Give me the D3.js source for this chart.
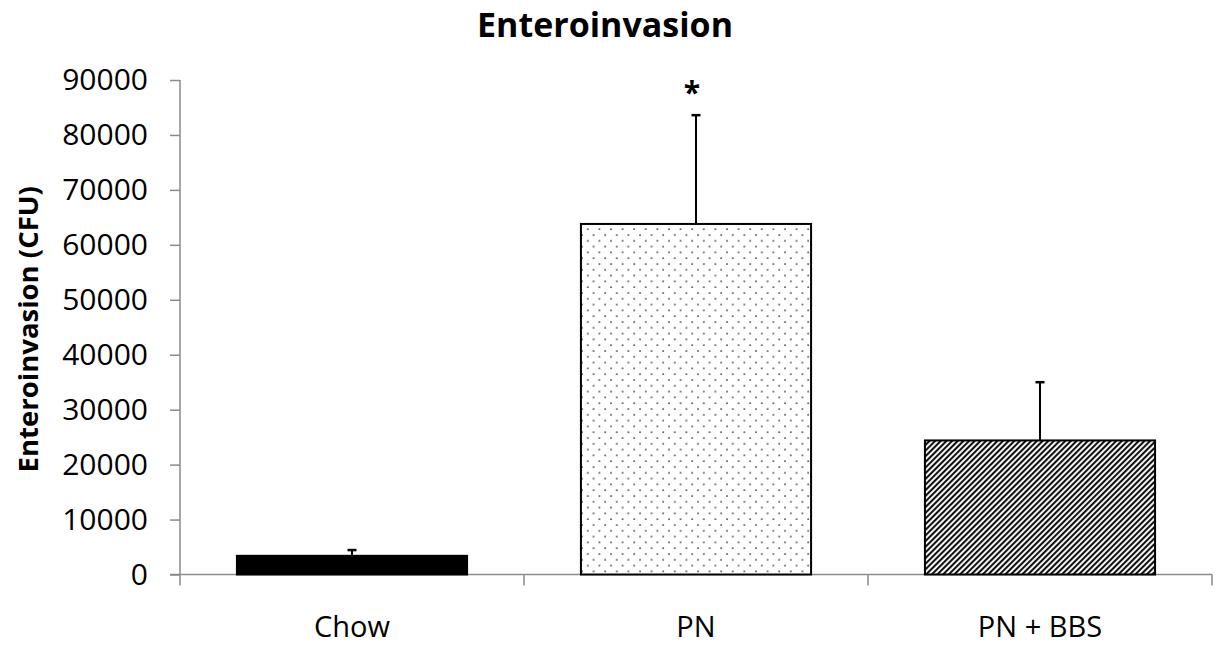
<!DOCTYPE html>
<html>
<head>
<meta charset="utf-8">
<script src="https://cdn.jsdelivr.net/npm/d3@7"></script>
<style>
	body { margin: 0; background: #fff; }
	svg { display: block; }
</style>
</head>
<body>
<main></main>
<script>
//Enteroinvasion bar chart with D3

//Data
const categories = ["Chow", "PN", "PN + BBS"];
const means = [3400, 63800, 24400];
const errors = [1050, 19800, 10600];
const significance = ["", "*", ""];
const yTicks = [0, 10000, 20000, 30000, 40000, 50000, 60000, 70000, 80000, 90000];
const fills = ["solid", "dots", "hatch"];

document.addEventListener('DOMContentLoaded', function(){

	//Parameters
	const w = 1220;
	const h = 646;
	const left = 180;
	const right = 1212;
	const top = 80;
	const bottom = 574.5;
	const axisColor = "#8a8a8a";
	const font = "'Open Sans', sans-serif";

	//svg
	const svg = d3
		.select("main")
		.append("svg")
		.attr("width", w)
		.attr("height", h);

	//Patterns
	const defs = svg.append("defs");

	const dots = defs.append("pattern")
		.attr("id", "dots")
		.attr("patternUnits", "userSpaceOnUse")
		.attr("width", 11.6)
		.attr("height", 11.6);
	dots.append("rect").attr("width", 11.6).attr("height", 11.6).attr("fill", "#fff");
	dots.append("circle").attr("cx", 2).attr("cy", 3).attr("r", 0.85).attr("fill", "#222");
	dots.append("circle").attr("cx", 7.8).attr("cy", 8.8).attr("r", 0.85).attr("fill", "#222");

	const hatch = defs.append("pattern")
		.attr("id", "hatch")
		.attr("patternUnits", "userSpaceOnUse")
		.attr("width", 4)
		.attr("height", 4)
		.attr("patternTransform", "rotate(45)");
	hatch.append("rect").attr("width", 4).attr("height", 4).attr("fill", "#fff");
	hatch.append("rect").attr("width", 2.1).attr("height", 4).attr("fill", "#111");

	//Scales
	const x = d3.scaleBand()
		.domain(categories)
		.range([left, right])
		.paddingInner(0.331)
		.paddingOuter(0.1655);

	const y = d3.scaleLinear()
		.domain([0, 90000])
		.range([bottom, top]);

	//Title
	svg.append("text")
		.attr("x", 605)
		.attr("y", 37)
		.attr("text-anchor", "middle")
		.style("font-family", font)
		.style("font-weight", "bold")
		.style("font-size", "34px")
		.text("Enteroinvasion");

	//Y axis
	const yAxis = svg.append("g")
		.attr("transform", "translate(" + left + ",0)")
		.call(d3.axisLeft(y).tickValues(yTicks).tickSize(10).tickPadding(22).tickFormat(d3.format("d")));
	yAxis.select(".domain").attr("stroke", axisColor).attr("stroke-width", 1.5)
		.attr("d", "M0," + top + "V" + bottom);
	yAxis.selectAll(".tick line").attr("stroke", axisColor).attr("stroke-width", 1.5);
	yAxis.selectAll(".tick text")
		.attr("fill", "#000")
		.style("font-family", font)
		.style("font-size", "30px");

	//X axis
	const xAxis = svg.append("g")
		.attr("transform", "translate(0," + bottom + ")");
	xAxis.append("line")
		.attr("x1", left - 10)
		.attr("x2", right)
		.attr("stroke", axisColor)
		.attr("stroke-width", 1.5);
	xAxis.selectAll(".xtick")
		.data(categories.concat([null]))
		.enter()
		.append("line")
		.attr("class", "xtick")
		.attr("x1", (d, i) => i < categories.length ? x(d) - x.step() * x.paddingInner() / 2 : right)
		.attr("x2", (d, i) => i < categories.length ? x(d) - x.step() * x.paddingInner() / 2 : right)
		.attr("y1", 0)
		.attr("y2", 11)
		.attr("stroke", axisColor)
		.attr("stroke-width", 1.5);
	xAxis.selectAll(".xlabel")
		.data(categories)
		.enter()
		.append("text")
		.attr("class", "xlabel")
		.attr("x", d => x(d) + x.bandwidth() / 2)
		.attr("y", 62)
		.attr("text-anchor", "middle")
		.style("font-family", font)
		.style("font-size", "29px")
		.text(d => d);

	//Y label
	svg.append("text")
		.attr("transform", "translate(38," + ((top + bottom) / 2 + 2) + ") rotate(-90)")
		.attr("text-anchor", "middle")
		.style("font-family", font)
		.style("font-weight", "bold")
		.style("font-size", "27.5px")
		.text("Enteroinvasion (CFU)");

	//Bars
	const bars = svg.selectAll(".bar")
		.data(categories)
		.enter()
		.append("g")
		.attr("class", "bar");

	bars.append("rect")
		.attr("x", d => x(d))
		.attr("y", (d, i) => y(means[i]))
		.attr("width", x.bandwidth())
		.attr("height", (d, i) => y(0) - y(means[i]))
		.attr("fill", (d, i) => fills[i] === "solid" ? "#000" : "url(#" + fills[i] + ")")
		.attr("stroke", "#000")
		.attr("stroke-width", 2);

	//Error bars (upper only)
	bars.append("line")
		.attr("x1", d => x(d) + x.bandwidth() / 2)
		.attr("x2", d => x(d) + x.bandwidth() / 2)
		.attr("y1", (d, i) => y(means[i]))
		.attr("y2", (d, i) => y(means[i] + errors[i]))
		.attr("stroke", "#000")
		.attr("stroke-width", 2);
	bars.append("line")
		.attr("x1", d => x(d) + x.bandwidth() / 2 - 4.5)
		.attr("x2", d => x(d) + x.bandwidth() / 2 + 4.5)
		.attr("y1", (d, i) => y(means[i] + errors[i]))
		.attr("y2", (d, i) => y(means[i] + errors[i]))
		.attr("stroke", "#000")
		.attr("stroke-width", 2.5);

	//Significance marks
	bars.append("text")
		.attr("x", d => x(d) + x.bandwidth() / 2 - 4)
		.attr("y", (d, i) => y(means[i] + errors[i]) - 12)
		.attr("text-anchor", "middle")
		.style("font-family", font)
		.style("font-weight", "bold")
		.style("font-size", "30px")
		.text((d, i) => significance[i]);
});
</script>
</body>
</html>
